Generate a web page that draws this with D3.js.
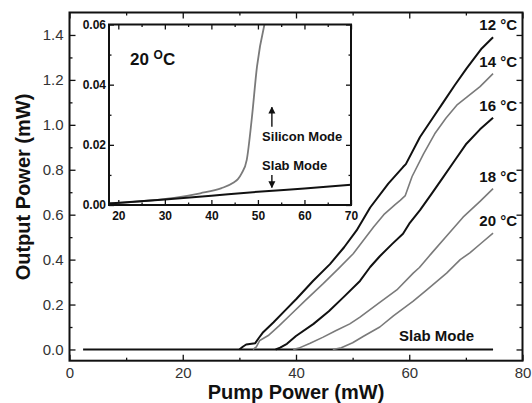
<!DOCTYPE html>
<html>
<head>
<meta charset="utf-8">
<script src="https://cdn.jsdelivr.net/npm/d3@7"></script>
<style>
body{margin:0;background:#fff}
svg{display:block;font-family:"Liberation Sans",Arial,sans-serif}
</style>
</head>
<body>
<svg id="chart" width="532" height="403"></svg>
<script>
// [pump power (mW), output power (mW)]
var t12 = [[30.0,0],[30.6,0.012],[31.2,0.022],[32.8,0.028],[33.4,0.05],[34.2,0.077],[36,0.12],[38,0.172],[40.1,0.226],[43,0.305],[46,0.38],[48.5,0.455],[50.7,0.53],[53.1,0.632],[56.3,0.738],[58.9,0.812],[59.4,0.825],[61.9,0.946],[64,1.025],[66,1.10],[68,1.175],[70.1,1.25],[72.8,1.34],[74.8,1.39]];
var t14 = [[32.4,0],[33.0,0.012],[33.6,0.04],[35.1,0.062],[37,0.105],[38.9,0.151],[41.8,0.222],[44.8,0.293],[47.5,0.36],[50.1,0.426],[53.7,0.545],[55.5,0.6],[57.5,0.645],[58.4,0.664],[59.3,0.685],[60.5,0.77],[62.5,0.87],[64.5,0.96],[66.5,1.03],[68.5,1.09],[70.5,1.13],[72.5,1.17],[74.8,1.228]];
var t16 = [[36.4,0],[37.2,0.008],[38.4,0.025],[40,0.06],[43.1,0.114],[45.8,0.17],[48.4,0.233],[51.3,0.305],[53.1,0.367],[54.8,0.415],[57,0.47],[58.9,0.515],[60,0.56],[61.9,0.62],[64,0.695],[66,0.767],[68,0.84],[70.1,0.916],[72.5,0.98],[74.8,1.032]];
var t18 = [[39.5,0],[40.5,0.006],[42.5,0.028],[44.8,0.055],[47,0.083],[49.5,0.114],[51.3,0.144],[54.8,0.21],[57.8,0.265],[60.7,0.34],[61.8,0.365],[64,0.43],[66.6,0.505],[69.5,0.589],[72.5,0.659],[74.8,0.716]];
var t20 = [[46.5,0],[48,0.008],[50,0.03],[52,0.06],[54.8,0.1],[57.2,0.15],[60.7,0.215],[63.1,0.265],[66.6,0.34],[69,0.4],[70.7,0.43],[72.8,0.475],[74.8,0.518]];
var slabMain = [[2.4,0],[74.8,0]];

var curves = [t12, t14, t16, t18, t20];
var curveNames = ["12 °C", "14 °C", "16 °C", "18 °C", "20 °C"];
var curveColors = ["#111", "#7a7a7a", "#111", "#7a7a7a", "#7a7a7a"];

// inset, 20 °C, zoomed near threshold
var insetSilicon = [[18,0.0006],[22,0.0009],[26.8,0.0015],[32,0.0024],[37.6,0.0039],[42.2,0.0056],[44.7,0.0074],[45.7,0.0086],[46.5,0.0105],[47.6,0.015],[48.7,0.029],[49.8,0.046],[51.4,0.06]];
var insetSlab = [[18,0.0005],[30,0.0018],[40,0.0031],[50,0.0044],[60,0.0055],[70,0.0067]];

var xTicks = [0, 20, 40, 60, 80];
var xMinor = [10, 30, 50, 70];
var yTicks = [0, 0.2, 0.4, 0.6, 0.8, 1.0, 1.2, 1.4];
var yMinor = [0.1, 0.3, 0.5, 0.7, 0.9, 1.1, 1.3];
var ixTicks = [20, 30, 40, 50, 60, 70];
var ixMinor = [25, 35, 45, 55, 65];
var iyTicks = [0, 0.02, 0.04, 0.06];
var iyMinor = [0.01, 0.03, 0.05];

var svg = d3.select("#chart");

var x = d3.scaleLinear().domain([0, 80]).range([69.5, 522.5]);
var y = d3.scaleLinear().domain([-0.05, 1.5]).range([360.7, 12.5]);

function tickAxis(g, axis) {
    g.call(axis);
    g.select(".domain").remove();
    g.selectAll(".tick line").attr("stroke", "#111").attr("stroke-width", 1.3);
}

// draws major + minor ticks (inward) on one side of a box
function side(parent, tr, axisFn, scale, major, minor, len, fmt, pad) {
    var g = parent.append("g").attr("transform", tr);
    tickAxis(g.append("g"), axisFn(scale).tickValues(major).tickSize(-len).tickPadding(pad || 3).tickFormat(fmt || ""));
    tickAxis(g.append("g"), axisFn(scale).tickValues(minor).tickSize(-len / 2).tickFormat(""));
    return g;
}

var axB = side(svg, "translate(0," + y.range()[0] + ")", d3.axisBottom, x, xTicks, xMinor, 6, d3.format("d"), 7);
side(svg, "translate(0," + y.range()[1] + ")", d3.axisTop, x, xTicks, xMinor, 6);
var axL = side(svg, "translate(" + x.range()[0] + ",0)", d3.axisLeft, y, yTicks, yMinor, 6, d3.format(".1f"), 6);
side(svg, "translate(" + x.range()[1] + ",0)", d3.axisRight, y, yTicks, yMinor, 6);

svg.selectAll(".tick text").attr("font-size", 15).attr("fill", "#333")
    .attr("font-family", "'Liberation Sans',Arial,sans-serif");

var line = d3.line().x(function(d){ return x(d[0]); }).y(function(d){ return y(d[1]); });

svg.append("path").datum(slabMain).attr("d", line)
    .attr("fill", "none").attr("stroke", "#111").attr("stroke-width", 2);

svg.selectAll("path.curve").data(curves).enter().append("path")
    .attr("class", "curve")
    .attr("d", line)
    .attr("fill", "none")
    .attr("stroke", function(d, i){ return curveColors[i]; })
    .attr("stroke-width", function(d, i){ return curveColors[i] == "#111" ? 2 : 1.6; })
    .attr("stroke-linejoin", "round");

// labels at the end of each curve
svg.selectAll("text.clabel").data(curves).enter().append("text")
    .attr("class", "clabel")
    .attr("x", 517)
    .attr("y", function(d){ return y(d[d.length - 1][1]) - 7; })
    .attr("text-anchor", "end")
    .attr("font-size", 15).attr("font-weight", "bold").attr("fill", "#111")
    .text(function(d, i){ return curveNames[i]; });

svg.append("text").attr("x", 399).attr("y", 340.5)
    .attr("font-size", 15).attr("font-weight", "bold").attr("fill", "#111")
    .text("Slab Mode");

svg.append("rect")
    .attr("x", x.range()[0]).attr("y", y.range()[1])
    .attr("width", x.range()[1] - x.range()[0]).attr("height", y.range()[0] - y.range()[1])
    .attr("fill", "none").attr("stroke", "#111").attr("stroke-width", 2);

// axis titles
svg.append("text").attr("x", 296).attr("y", 399)
    .attr("text-anchor", "middle").attr("font-size", 20).attr("font-weight", "bold").attr("fill", "#111")
    .text("Pump Power (mW)");
svg.append("text").attr("transform", "translate(30,187) rotate(-90)")
    .attr("text-anchor", "middle").attr("font-size", 20).attr("font-weight", "bold").attr("fill", "#111")
    .text("Output Power (mW)");

// ---- inset ----
var ix = d3.scaleLinear().domain([18, 70]).range([109, 351]);
var iy = d3.scaleLinear().domain([0, 0.06]).range([205, 24.5]);
var inset = svg.append("g");

inset.append("rect")
    .attr("x", ix.range()[0]).attr("y", iy.range()[1])
    .attr("width", ix.range()[1] - ix.range()[0]).attr("height", iy.range()[0] - iy.range()[1])
    .attr("fill", "#fff");

side(inset, "translate(0," + iy.range()[0] + ")", d3.axisBottom, ix, ixTicks, ixMinor, 5, d3.format("d"), 6);
side(inset, "translate(0," + iy.range()[1] + ")", d3.axisTop, ix, ixTicks, ixMinor, 5);
side(inset, "translate(" + ix.range()[0] + ",0)", d3.axisLeft, iy, iyTicks, iyMinor, 5, d3.format(".2f"), 3);
side(inset, "translate(" + ix.range()[1] + ",0)", d3.axisRight, iy, iyTicks, iyMinor, 5);

inset.selectAll(".tick text").attr("font-size", 12).attr("font-weight", "bold").attr("fill", "#111")
    .attr("font-family", "'Liberation Sans',Arial,sans-serif");

var iline = d3.line().x(function(d){ return ix(d[0]); }).y(function(d){ return iy(d[1]); })
    .curve(d3.curveMonotoneX);
inset.append("path").datum(insetSilicon).attr("d", iline)
    .attr("fill", "none").attr("stroke", "#7a7a7a").attr("stroke-width", 1.8);
inset.append("path").datum(insetSlab).attr("d", iline)
    .attr("fill", "none").attr("stroke", "#111").attr("stroke-width", 2);

inset.append("rect")
    .attr("x", ix.range()[0]).attr("y", iy.range()[1])
    .attr("width", ix.range()[1] - ix.range()[0]).attr("height", iy.range()[0] - iy.range()[1])
    .attr("fill", "none").attr("stroke", "#111").attr("stroke-width", 2);

// inset annotations
var tl = inset.append("text").attr("x", ix(22.5)).attr("y", iy(0.0465))
    .attr("font-size", 17).attr("font-weight", "bold").attr("fill", "#111");
tl.append("tspan").text("20 ");
tl.append("tspan").attr("font-size", 12).attr("dy", -6).text("O");
tl.append("tspan").attr("dy", 6).text("C");

inset.append("text").attr("x", ix(50.9)).attr("y", iy(0.0212))
    .attr("font-size", 13).attr("font-weight", "bold").attr("fill", "#111").text("Silicon Mode");
inset.append("text").attr("x", ix(50.9)).attr("y", iy(0.0117))
    .attr("font-size", 13).attr("font-weight", "bold").attr("fill", "#111").text("Slab Mode");

svg.append("defs").append("marker").attr("id", "ah")
    .attr("viewBox", "0 0 10 10").attr("refX", 9).attr("refY", 5)
    .attr("markerWidth", 5).attr("markerHeight", 6).attr("orient", "auto")
    .append("path").attr("d", "M0,0L10,5L0,10Z").attr("fill", "#111");

var arrows = [[[53, 0.026], [53, 0.0325]], [[53, 0.010], [53, 0.0058]]];
var aline = d3.line().x(function(d){ return ix(d[0]); }).y(function(d){ return iy(d[1]); });
inset.selectAll("path.arr").data(arrows).enter().append("path")
    .attr("class", "arr").attr("d", aline)
    .attr("stroke", "#111").attr("stroke-width", 1.4).attr("marker-end", "url(#ah)");
</script>
</body>
</html>
